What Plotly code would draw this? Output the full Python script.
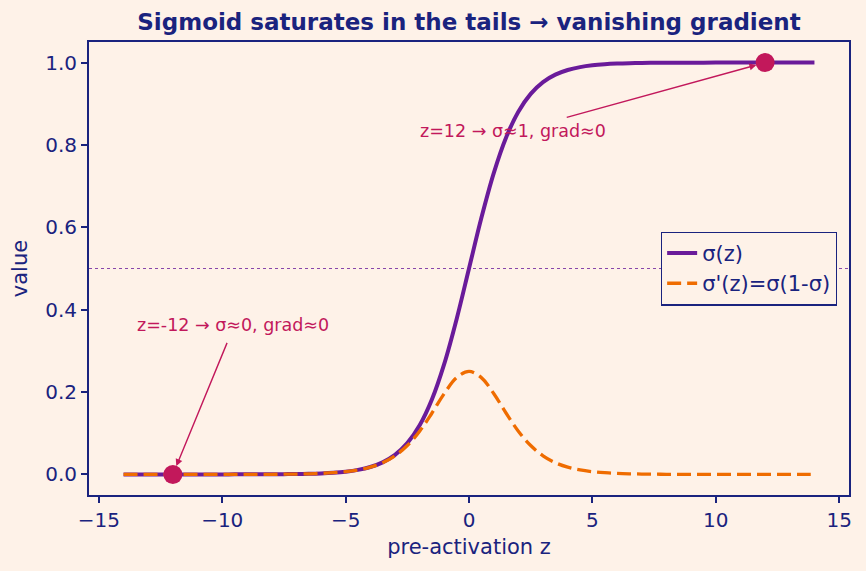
import plotly.graph_objects as go

# pre-activation values
z = [-14.0, -13.5, -13.0, -12.5, -12.0, -11.5, -11.0, -10.5, -10.0, -9.5, -9.0, -8.5, -8.0,
     -7.5, -7.0, -6.5, -6.0, -5.5, -5.0, -4.5, -4.0, -3.5, -3.0, -2.5, -2.0, -1.5, -1.0,
     -0.5, 0.0, 0.5, 1.0, 1.5, 2.0, 2.5, 3.0, 3.5, 4.0, 4.5, 5.0, 5.5, 6.0, 6.5, 7.0,
     7.5, 8.0, 8.5, 9.0, 9.5, 10.0, 10.5, 11.0, 11.5, 12.0, 12.5, 13.0, 13.5, 14.0]

# sigma(z)
sigma = [0.0000, 0.0000, 0.0000, 0.0000, 0.0000, 0.0000, 0.0000, 0.0000, 0.0000, 0.0001, 0.0001,
         0.0002, 0.0003, 0.0006, 0.0009, 0.0015, 0.0025, 0.0041, 0.0067, 0.0110, 0.0180, 0.0293,
         0.0474, 0.0759, 0.1192, 0.1824, 0.2689, 0.3775, 0.5000, 0.6225, 0.7311, 0.8176, 0.8808,
         0.9241, 0.9526, 0.9707, 0.9820, 0.9890, 0.9933, 0.9959, 0.9975, 0.9985, 0.9991, 0.9994,
         0.9997, 0.9998, 0.9999, 0.9999, 1.0000, 1.0000, 1.0000, 1.0000, 1.0000, 1.0000, 1.0000,
         1.0000, 1.0000]

# sigma'(z)
dsigma = [0.0000, 0.0000, 0.0000, 0.0000, 0.0000, 0.0000, 0.0000, 0.0000, 0.0000, 0.0001, 0.0001,
          0.0002, 0.0003, 0.0006, 0.0009, 0.0015, 0.0025, 0.0041, 0.0066, 0.0109, 0.0177, 0.0284,
          0.0452, 0.0701, 0.1050, 0.1491, 0.1966, 0.2350, 0.2500, 0.2350, 0.1966, 0.1491, 0.1050,
          0.0701, 0.0452, 0.0284, 0.0177, 0.0109, 0.0066, 0.0041, 0.0025, 0.0015, 0.0009, 0.0006,
          0.0003, 0.0002, 0.0001, 0.0001, 0.0000, 0.0000, 0.0000, 0.0000, 0.0000, 0.0000, 0.0000,
          0.0000, 0.0000]

marker_z = [-12, 12]
marker_v = [0.0000, 1.0000]

ann_texts = ["z=-12 → σ≈0, grad≈0", "z=12 → σ≈1, grad≈0"]
ann_text_pos = [(-9.58, 0.362), (1.8, 0.833)]
ann_tail_pos = [(-9.78, 0.323), (3.9, 0.866)]

x_ticks = [-15, -10, -5, 0, 5, 10, 15]
y_ticks = [0.0, 0.2, 0.4, 0.6, 0.8, 1.0]

NAVY = "#1a237e"
PURPLE = "#6a1b9a"
ORANGE = "#ef6c00"
CRIMSON = "#c2185b"
BG = "#fef2e8"
FONT = "DejaVu Sans"

fig = go.Figure()
fig.add_trace(go.Scatter(x=z, y=sigma, mode="lines", name="σ(z)",
                         line=dict(color=PURPLE, width=4, shape="spline")))
fig.add_trace(go.Scatter(x=z, y=dsigma, mode="lines", name="σ'(z)=σ(1-σ)",
                         line=dict(color=ORANGE, width=3.3, dash="14px,6px", shape="spline")))
fig.add_trace(go.Scatter(x=marker_z, y=marker_v, mode="markers", showlegend=False,
                         marker=dict(color=CRIMSON, size=19)))

fig.add_shape(type="line", xref="paper", yref="y", x0=0, x1=1, y0=0.5, y1=0.5,
              line=dict(color=PURPLE, width=0.8, dash="dot"), layer="below")

for txt, (tx, ty), (ax, ay), (px, py) in zip(ann_texts, ann_text_pos, ann_tail_pos,
                                             zip(marker_z, marker_v)):
    fig.add_annotation(x=tx, y=ty, text=txt, showarrow=False,
                       font=dict(family=FONT, size=17.5, color=CRIMSON))
    fig.add_annotation(x=px, y=py, ax=ax, ay=ay, axref="x", ayref="y", text="",
                       showarrow=True, arrowhead=2, arrowsize=1, arrowwidth=1.4,
                       arrowcolor=CRIMSON, standoff=9)

fig.update_layout(
    width=866, height=571,
    margin=dict(l=89, r=17, t=42, b=76),
    paper_bgcolor=BG, plot_bgcolor=BG,
    font=dict(family=FONT, size=21, color=NAVY),
    title=dict(text="<b>Sigmoid saturates in the tails → vanishing gradient</b>",
               x=0.5, xref="paper", xanchor="center", y=0.962, yanchor="middle",
               font=dict(family=FONT, size=23, color=NAVY)),
    legend=dict(x=0.984, y=0.5, xanchor="right", yanchor="middle",
                bgcolor=BG, bordercolor=NAVY, borderwidth=1.3, tracegroupgap=0,
                font=dict(family=FONT, size=21, color=NAVY)),
    showlegend=True,
)
fig.update_xaxes(range=[-15.4, 15.4], tickvals=x_ticks,
                 ticktext=[str(v).replace("-", "−") for v in x_ticks],
                 showgrid=False, zeroline=False, showline=True, linecolor=NAVY, linewidth=2,
                 mirror=True, ticks="outside", ticklen=6, tickwidth=1.5, tickcolor=NAVY,
                 title=dict(text="pre-activation z", font=dict(size=21), standoff=8),
                 tickfont=dict(size=20))
fig.update_yaxes(range=[-0.05, 1.05], tickvals=y_ticks,
                 ticktext=[f"{v:.1f}" for v in y_ticks],
                 showgrid=False, zeroline=False, showline=True, linecolor=NAVY, linewidth=2,
                 mirror=True, ticks="outside", ticklen=6, tickwidth=1.5, tickcolor=NAVY,
                 title=dict(text="value", font=dict(size=21), standoff=12),
                 tickfont=dict(size=20))

fig.write_html("out.html")
